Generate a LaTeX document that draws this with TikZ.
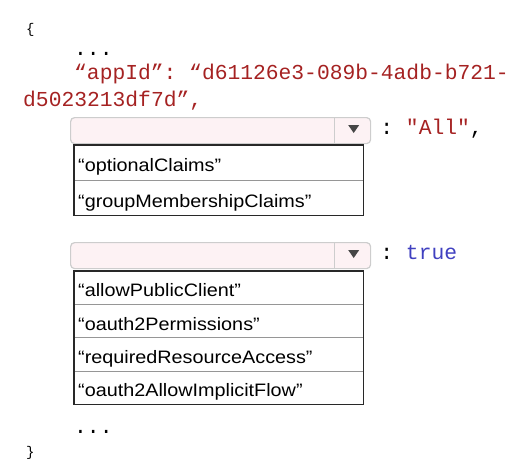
\documentclass[tikz,border=0pt]{standalone}
\usepackage{xcolor}
\usepackage{fontspec}
\setmainfont{Liberation Sans}[FakeStretch=1.1]
\setmonofont{Liberation Mono}
\usepackage{tikz}
\usetikzlibrary{calc}
\usetikzlibrary{positioning}

\definecolor{codered}{RGB}{165,34,34}
\definecolor{codeblue}{RGB}{64,64,192}
\definecolor{dropgray}{RGB}{205,205,205}
\definecolor{droppink}{RGB}{253,242,244}
\definecolor{arrowgray}{RGB}{70,70,70}
\definecolor{framegray}{RGB}{40,40,40}
\definecolor{rowgray}{RGB}{150,150,150}

\begin{document}
\begin{tikzpicture}[
		x=1pt,
		y=1pt,
		font=\fontsize{18pt}{20pt}\selectfont,
	]
		\tikzset{code/.style={
			inner sep=0,
			font=\ttfamily\fontsize{21.3pt}{22pt}\selectfont,
		}}
		\tikzset{dropbox/.style={
			draw=dropgray,
			fill=droppink,
			rounded corners=4,
			line width=1.2,
			minimum width=300,
			minimum height=26,
			inner sep=0,
			anchor=north west,
		}}
		\tikzset{listitem/.style={
			rectangle,
			anchor=north west,
			inner xsep=4,
			inner ysep=0,
			text width=281,
			text height=18,
			text depth=0,
			align=left,
		}}
		\tikzset{listframe/.style={
			draw=framegray,
			line width=1.3,
		}}
		\tikzset{rowline/.style={
			draw=rowgray,
			line width=0.8,
		}}

		\useasboundingbox (0,0) rectangle (511,-467);

		%---------------------------------
		% Code head
		\node[code, anchor=base west] (open) at (26,-33) {\fontsize{14pt}{14pt}\selectfont\{};
		\node[code, anchor=base west] (dotsa) at (74,-55) {...};
		\node[
			code,
			anchor=base west,
			text=codered,
		] (appida) at (74,-79) {“appId”: “d61126e3-089b-4adb-b721-};
		\node[
			code,
			anchor=base west,
			text=codered,
		] (appidb) at (23,-106) {d5023213df7d”,};

		%---------------------------------
		% First drop-down
		\node[dropbox] (drop1) at (70,-117) {};
		\draw[dropgray, line width=1] ([xshift=-37]drop1.north east) -- ([xshift=-37]drop1.south east);
		\fill[arrowgray] ([xshift=-23,yshift=-8]drop1.north east) -- ++(11,0) -- ++(-5.5,-8) -- cycle;
		\node[
			code,
			anchor=base west,
			xshift=9,
			yshift=-4,
		] (all) at (drop1.east) {: \textcolor{codered}{"All"},};

		\node[
			listitem,
			minimum height=35,
		] (item1a) at (74,-145) {“optionalClaims”};
		\node[
			listitem,
			minimum height=35,
		] (item1b) at (item1a.south west) {“groupMembershipClaims”};

		\draw[rowline] (item1a.south west) -- (item1a.south east);
		\draw[listframe] (item1a.north west) rectangle (item1b.south east);

		%---------------------------------
		% Second drop-down
		\node[dropbox] (drop2) at (70,-242) {};
		\draw[dropgray, line width=1] ([xshift=-37]drop2.north east) -- ([xshift=-37]drop2.south east);
		\fill[arrowgray] ([xshift=-23,yshift=-8]drop2.north east) -- ++(11,0) -- ++(-5.5,-8) -- cycle;
		\node[
			code,
			anchor=base west,
			xshift=9,
			yshift=-4,
		] (true) at (drop2.east) {: \textcolor{codeblue}{true}};

		\node[
			listitem,
			minimum height=33,
		] (item2a) at (74,-271) {“allowPublicClient”};
		\node[
			listitem,
			minimum height=33,
		] (item2b) at (item2a.south west) {“oauth2Permissions”};
		\node[
			listitem,
			minimum height=33,
		] (item2c) at (item2b.south west) {“requiredResourceAccess”};
		\node[
			listitem,
			minimum height=33,
		] (item2d) at (item2c.south west) {“oauth2AllowImplicitFlow”};

		\draw[rowline] (item2a.south west) -- (item2a.south east);
		\draw[rowline] (item2b.south west) -- (item2b.south east);
		\draw[rowline] (item2c.south west) -- (item2c.south east);
		\draw[listframe] (item2a.north west) rectangle (item2d.south east);

		%---------------------------------
		% Code tail
		\node[code, anchor=base west] (dotsb) at (74,-433) {...};
		\node[code, anchor=base west] (close) at (26,-456) {\fontsize{14pt}{14pt}\selectfont\}};
	\end{tikzpicture}
\end{document}
